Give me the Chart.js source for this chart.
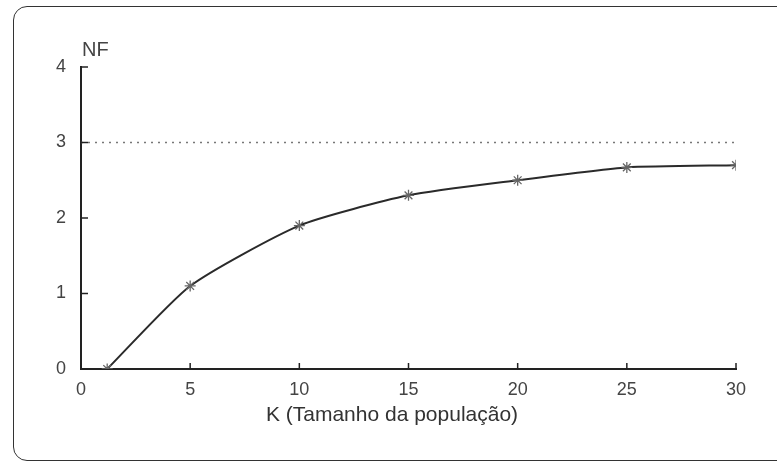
<!DOCTYPE html>
<html>
<head>
<meta charset="utf-8">
<script src="https://cdn.jsdelivr.net/npm/chart.js@4/dist/chart.umd.min.js"></script>
<style>
  html, body { margin: 0; padding: 0; background: #fff; }
  #wrap { position: relative; width: 777px; height: 468px; overflow: hidden; }
  #frame { position: absolute; left: 13px; top: 6px; width: 800px; height: 455px;
           border: 1.6px solid #333; border-radius: 14px; box-sizing: border-box; }
  #nf { position: absolute; left: 82px; top: 38px; font: 20px 'Liberation Sans', Arial, sans-serif; color: #444; }
  #xt { position: absolute; left: 392px; top: 402px; transform: translateX(-50%); white-space: nowrap;
        font: 21px 'Liberation Sans', Arial, sans-serif; color: #333; }
  canvas { position: absolute; left: 0; top: 0; }
</style>
</head>
<body>
<div id="wrap">
  <div id="frame"></div>
  <canvas id="c" width="777" height="468"></canvas>
  <div id="nf">NF</div>
  <div id="xt"></div>
</div>
<script>
const kValues = [1.2, 5, 10, 15, 20, 25, 30];
const nfValues = [0, 1.1, 1.9, 2.3, 2.5, 2.67, 2.7];
const asymptoteK = [0, 30];
const asymptoteNF = [3, 3];
const xTickValues = [0, 5, 10, 15, 20, 25, 30];
const yTickValues = [0, 1, 2, 3, 4];
const xTitle = 'K (Tamanho da população)';

document.getElementById('xt').textContent = xTitle;

const FONT = "'Liberation Sans', Arial, sans-serif";

const inwardTicks = {
  id: 'inwardTicks',
  afterDraw(chart) {
    const ctx = chart.ctx, xs = chart.scales.x, ys = chart.scales.y;
    ctx.save();
    ctx.strokeStyle = '#222';
    ctx.lineWidth = 1.5;
    xTickValues.forEach(v => {
      const px = xs.getPixelForValue(v);
      ctx.beginPath(); ctx.moveTo(px, ys.bottom); ctx.lineTo(px, ys.bottom - 6); ctx.stroke();
    });
    yTickValues.forEach(v => {
      const py = ys.getPixelForValue(v);
      ctx.beginPath(); ctx.moveTo(xs.left, py); ctx.lineTo(xs.left + 7, py); ctx.stroke();
    });
    ctx.restore();
  }
};

new Chart(document.getElementById('c'), {
  type: 'scatter',
  data: {
    datasets: [
      {
        data: asymptoteK.map((k, i) => ({x: k, y: asymptoteNF[i]})),
        showLine: true,
        borderColor: '#777',
        borderWidth: 1.5,
        borderDash: [2, 5],
        pointRadius: 0
      },
      {
        data: kValues.map((k, i) => ({x: k, y: nfValues[i]})),
        showLine: true,
        borderColor: '#2a2a2a',
        borderWidth: 2,
        tension: 0.2,
        pointStyle: 'star',
        pointRadius: 5.5,
        pointBorderColor: '#666',
        pointBorderWidth: 1.3,
        pointBackgroundColor: '#666'
      }
    ]
  },
  options: {
    responsive: false,
    animation: false,
    layout: { padding: { left: 0, top: 67, right: 41, bottom: 0 } },
    plugins: { legend: { display: false }, tooltip: { enabled: false } },
    scales: {
      x: {
        type: 'linear', min: 0, max: 30,
        afterBuildTicks: s => { s.ticks = xTickValues.map(v => ({value: v})); },
        afterFit: s => { s.height = 99; },
        grid: { drawOnChartArea: false, drawTicks: false },
        border: { display: true, color: '#222', width: 2 },
        ticks: { padding: 10, color: '#444', font: { family: FONT, size: 18 }, maxRotation: 0 }
      },
      y: {
        type: 'linear', min: 0, max: 4,
        afterBuildTicks: s => { s.ticks = yTickValues.map(v => ({value: v})); },
        afterFit: s => { s.width = 81; },
        grid: { drawOnChartArea: false, drawTicks: false },
        border: { display: true, color: '#222', width: 2 },
        ticks: { padding: 15, color: '#444', font: { family: FONT, size: 18 } }
      }
    }
  },
  plugins: [inwardTicks]
});
</script>
</body>
</html>
